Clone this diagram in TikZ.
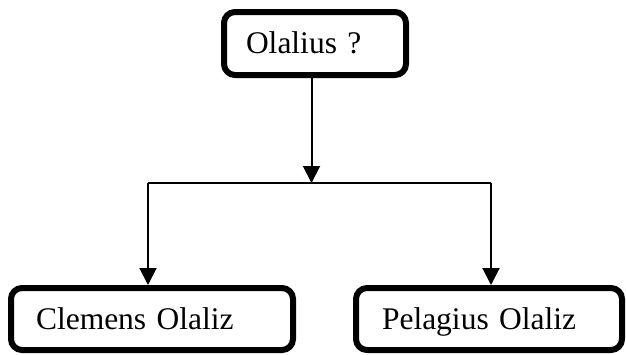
\documentclass[tikz,border=0pt]{standalone}
\usepackage{fontspec}
\setmainfont{Liberation Serif}
\usetikzlibrary{arrows.meta}
\begin{document}
\begin{tikzpicture}[x=1pt,y=-1pt,
  box/.style={draw=black, line width=6pt, rounded corners=11pt, fill=white,
    font=\fontsize{31.5}{36}\selectfont, align=left, inner ysep=0pt,
    text height=20pt, text depth=0pt, anchor=center},
  conn/.style={draw=black, line width=2pt},
  arr/.style={conn, -{Triangle[width=17pt,length=17pt]}}]
\useasboundingbox (0,0) rectangle (626,354);
\node[box, text width=138pt, inner xsep=22pt, minimum height=63pt] (top) at (315,43.5) {Olalius ?};
\node[box, text width=232pt, inner xsep=25pt, minimum height=62pt] (left) at (152,319) {Clemens Olaliz};
\node[box, text width=214pt, inner xsep=26pt, minimum height=62pt] (right) at (489,319) {Pelagius Olaliz};
\coordinate (j) at (311.5,183);
\coordinate (jl) at (148,183);
\coordinate (jr) at (491,183);
\draw[arr] (top.south -| j) -- (j);
\draw[conn] (jl) -- (jr);
\draw[arr] (jl) -- (jl |- left.north);
\draw[arr] (jr) -- (jr |- right.north);
\end{tikzpicture}
\end{document}
